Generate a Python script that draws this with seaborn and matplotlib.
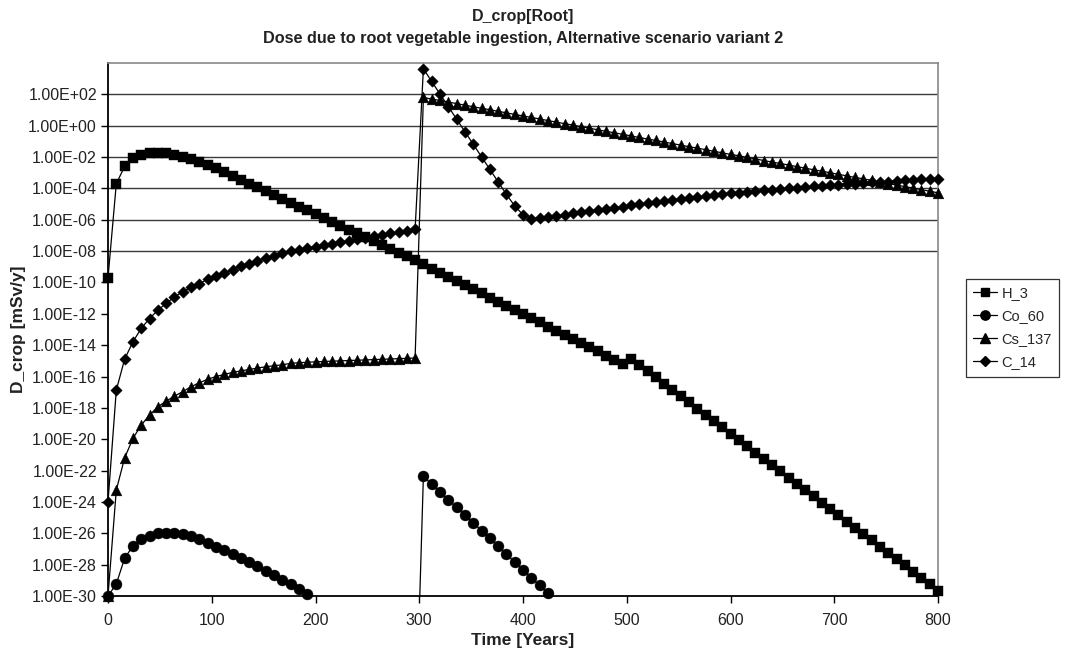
import numpy as np
import pandas as pd
import matplotlib
matplotlib.use("Agg")
import matplotlib.pyplot as plt
import seaborn as sns
from matplotlib.lines import Line2D
from matplotlib.ticker import NullLocator, FixedLocator

# ---------------- data (log10 of dose in mSv/y) ----------------
years = list(range(0, 801, 8))

h3_exp = [
    -9.70, -3.70, -2.60, -2.05, -1.85, -1.76, -1.74, -1.77, -1.86, -1.98,
    -2.12, -2.30, -2.50, -2.72, -2.96, -3.20, -3.45, -3.69, -3.93, -4.18,
    -4.42, -4.67, -4.91, -5.16, -5.40, -5.65, -5.89, -6.14, -6.38, -6.63,
    -6.87, -7.12, -7.36, -7.61, -7.85, -8.10, -8.34, -8.59,
    -8.85, -9.11, -9.38, -9.64, -9.91, -10.17, -10.44, -10.70, -10.96, -11.23,
    -11.49, -11.76, -12.02, -12.29, -12.55, -12.81, -13.08, -13.34, -13.61, -13.87,
    -14.14, -14.40, -14.66, -14.93, -15.19,
    -14.85, -15.25, -15.65, -16.05, -16.45, -16.85, -17.25, -17.65, -18.05, -18.45,
    -18.85, -19.25, -19.65, -20.05, -20.45, -20.85, -21.25, -21.65, -22.05, -22.45,
    -22.85, -23.25, -23.65, -24.05, -24.45, -24.85, -25.25, -25.65, -26.05, -26.45,
    -26.85, -27.25, -27.65, -28.05, -28.45, -28.85, -29.25, -29.65,
]

# -40 marks values that lie below the 1E-30 axis floor
co60_exp = [
    -30.00, -29.23, -27.60, -26.80, -26.36, -26.15, -26.00, -25.98, -25.98, -26.05,
    -26.17, -26.36, -26.60, -26.85, -27.08, -27.30, -27.57, -27.83, -28.10, -28.38,
    -28.65, -28.95, -29.22, -29.53, -29.85,
    -40, -40, -40, -40, -40, -40, -40, -40, -40, -40, -40, -40, -40,
    -22.35, -22.88, -23.35, -23.87, -24.35, -24.85, -25.33, -25.83, -26.33, -26.83,
    -27.33, -27.83, -28.33, -28.83, -29.33, -29.83,
    -40, -40, -40, -40, -40, -40, -40, -40, -40, -40,
    -40, -40, -40, -40, -40, -40, -40, -40, -40, -40,
    -40, -40, -40, -40, -40, -40, -40, -40, -40, -40,
    -40, -40, -40, -40, -40, -40, -40, -40, -40, -40,
    -40, -40, -40, -40, -40, -40, -40,
]

cs137_exp = [
    -30.00, -23.24, -21.20, -19.95, -19.10, -18.46, -17.93, -17.57, -17.25, -16.97,
    -16.65, -16.40, -16.18, -16.00, -15.87, -15.74, -15.64, -15.55, -15.46, -15.38,
    -15.31, -15.25, -15.16,
    -15.12, -15.09, -15.06, -15.04, -15.02, -15.00, -14.98, -14.96, -14.94, -14.92,
    -14.90, -14.88, -14.86, -14.84, -14.82,
    1.80, 1.70, 1.61, 1.51, 1.41, 1.31, 1.21, 1.11, 1.02, 0.92,
    0.82, 0.72, 0.62, 0.53, 0.43, 0.33, 0.23, 0.13, 0.04, -0.06,
    -0.16, -0.26, -0.36, -0.45, -0.55, -0.65, -0.75, -0.85, -0.94, -1.04,
    -1.14, -1.24, -1.34, -1.43, -1.53, -1.63, -1.73, -1.83, -1.92, -2.02,
    -2.12, -2.22, -2.32, -2.41, -2.51, -2.61, -2.71, -2.81, -2.90, -3.00,
    -3.10, -3.20, -3.30, -3.39, -3.49, -3.59, -3.69, -3.79, -3.88, -3.98,
    -4.08, -4.18, -4.28,
]

c14_exp = [
    -24.00, -16.87, -14.90, -13.79, -12.93, -12.30, -11.77, -11.34, -10.92, -10.60,
    -10.32, -10.07, -9.81, -9.60, -9.39, -9.18, -8.96, -8.79, -8.62, -8.43,
    -8.31, -8.15, -8.00,
    -7.90, -7.81, -7.73, -7.63, -7.54, -7.44, -7.33, -7.24, -7.15, -7.06,
    -6.96, -6.87, -6.79, -6.70, -6.62,
    3.64, 2.82, 2.02, 1.22, 0.42, -0.38, -1.18, -1.98, -2.78, -3.58,
    -4.38, -5.12, -5.68,
    -5.92, -5.88, -5.82, -5.75, -5.68, -5.60, -5.52, -5.44, -5.37, -5.30,
    -5.23, -5.16, -5.09, -5.01, -4.94, -4.87, -4.80, -4.73, -4.67, -4.61,
    -4.55, -4.49, -4.43, -4.37, -4.32, -4.27, -4.22, -4.17, -4.12, -4.08,
    -4.03, -3.99, -3.95, -3.91, -3.87, -3.83, -3.79, -3.76, -3.72, -3.69,
    -3.66, -3.62, -3.59, -3.56, -3.52, -3.49, -3.46, -3.43, -3.40, -3.37,
]

nuclides = ["H_3", "Co_60", "Cs_137", "C_14"]
series_exp = [h3_exp, co60_exp, cs137_exp, c14_exp]

title_line1 = "D_crop[Root]"
title_line2 = "Dose due to root vegetable ingestion, Alternative scenario variant 2"
x_label = "Time [Years]"
y_label = "D_crop [mSv/y]"
x_ticks = [0, 100, 200, 300, 400, 500, 600, 700, 800]
y_tick_exps = list(range(-30, 3, 2))
grid_exps = [2, 0, -2, -4, -6, -8]

# ---------------- build table ----------------
frames = []
for name, ex in zip(nuclides, series_exp):
    assert len(ex) == len(years), (name, len(ex))
    frames.append(pd.DataFrame({"time": years,
                                "dose": 10.0 ** np.array(ex, dtype=float),
                                "nuclide": name}))
df = pd.concat(frames, ignore_index=True)

# ---------------- style ----------------
sns.set_style("white")
plt.rcParams["font.family"] = ["Liberation Sans", "DejaVu Sans"]

W, H = 1067, 657
fig = plt.figure(figsize=(W / 100, H / 100), dpi=100)
ax = fig.add_axes([108 / W, 1 - 596 / H, (938 - 108) / W, (596 - 63) / H])

ymin, ymax = 1e-30, 1e4
styles = {
    "H_3": dict(marker="s", s=58),
    "Co_60": dict(marker="o", s=62),
    "Cs_137": dict(marker="^", s=60),
    "C_14": dict(marker="D", s=34),
}

for g in grid_exps:
    ax.axhline(10.0 ** g, color="#3a3a3a", lw=1.0, zorder=1)

for name in nuclides:
    sub = df[df["nuclide"] == name]
    sns.lineplot(data=sub, x="time", y="dose", ax=ax, color="black", lw=0.9,
                 estimator=None, sort=False, legend=False, zorder=2)
    vis = sub[sub["dose"] >= ymin * 0.999]
    sns.scatterplot(data=vis, x="time", y="dose", ax=ax, color="black",
                    edgecolor="black", linewidth=0.3, legend=False,
                    clip_on=False, zorder=3, **styles[name])

ax.set_yscale("log")
ax.set_ylim(ymin, ymax)
ax.set_xlim(0, 800)
ax.yaxis.set_major_locator(FixedLocator([10.0 ** e for e in y_tick_exps]))
ax.yaxis.set_minor_locator(NullLocator())
ax.set_yticklabels([f"{10.0 ** e:.2E}" for e in y_tick_exps])
ax.set_xticks(x_ticks)
ax.set_xticklabels([str(t) for t in x_ticks])
ax.tick_params(axis="both", which="major", direction="out", length=5,
               width=1, color="black", labelsize=11.5, pad=3,
               left=True, bottom=True, labelcolor="#222222")
ax.tick_params(axis="x", pad=7)

for side in ["left", "bottom"]:
    ax.spines[side].set_color("black")
    ax.spines[side].set_linewidth(1.3)
for side in ["top", "right"]:
    ax.spines[side].set_color("#888888")
    ax.spines[side].set_linewidth(1.2)

ax.set_xlabel("")
ax.set_ylabel(y_label, fontsize=12.5, fontweight="bold", color="#222222")
ax.yaxis.set_label_coords((26 - 108) / 830, 0.5)

fig.text(523 / W, 1 - 640 / H, x_label, ha="center", va="center",
         fontsize=12.5, fontweight="bold", color="#222222")
fig.text(523 / W, 1 - 17 / H, title_line1, ha="center", va="center",
         fontsize=11.5, fontweight="bold", color="#222222")
fig.text(523 / W, 1 - 38 / H, title_line2, ha="center", va="center",
         fontsize=11.7, fontweight="bold", color="#222222")

handles = [Line2D([0], [0], color="black", lw=0.9, marker=styles[n]["marker"],
                  markersize=np.sqrt(styles[n]["s"]) * 0.85,
                  markerfacecolor="black", markeredgecolor="black")
           for n in nuclides]
leg = fig.legend(handles, nuclides, loc="upper left",
                 bbox_to_anchor=(966 / W, 1 - 279 / H), frameon=True,
                 fancybox=False, edgecolor="black", fontsize=10.5,
                 handlelength=1.6, handletextpad=0.35, borderpad=0.5,
                 borderaxespad=0, labelspacing=0.62)
leg.get_frame().set_linewidth(0.9)

fig.savefig("out.png", dpi=100, facecolor="white")
